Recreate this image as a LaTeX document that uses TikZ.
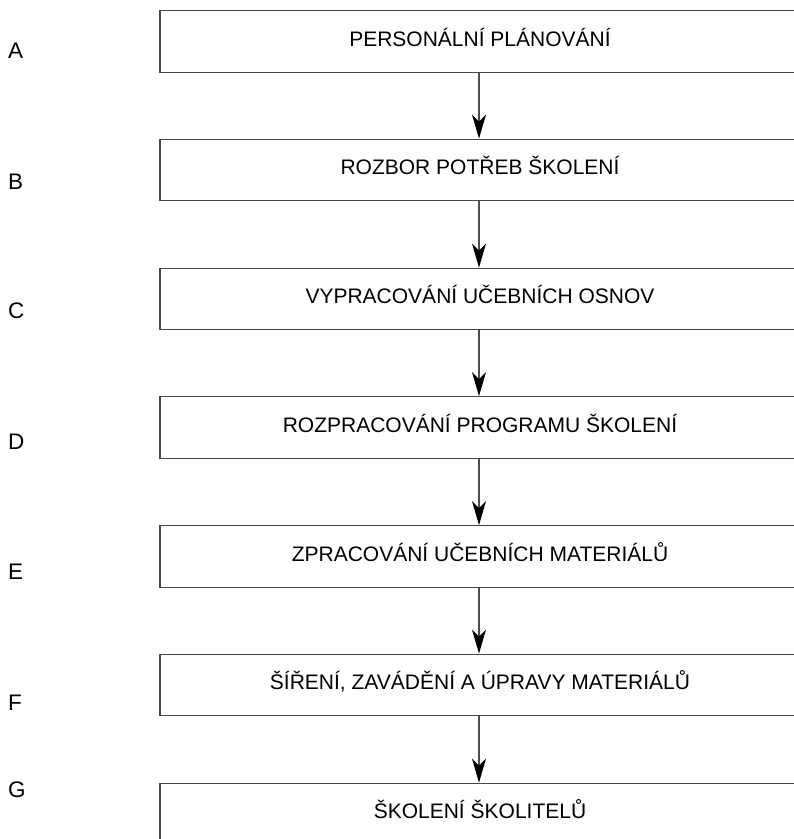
\documentclass[tikz,border=0pt]{standalone}
\usepackage{fontspec}
\setmainfont{Liberation Sans}
\usetikzlibrary{arrows.meta}
\begin{document}
\begin{tikzpicture}[x=1pt,y=-1pt,
  stepbox/.style={draw=black!72, line width=1.3pt, minimum width=640pt, minimum height=61.5pt,
    inner sep=0pt, text height=15pt, text depth=6pt, font=\fontsize{21}{24}\selectfont},
  rowlabel/.style={font=\fontsize{22.5}{26}\selectfont, anchor=west, inner sep=0pt},
  flow/.style={draw=black!70, line width=1.1pt, -{Stealth[length=24pt, width=14pt, inset=7pt, color=black]}}]
\useasboundingbox (0,0) rectangle (794,839);
\clip (0,0) rectangle (794,839);
\fill[white] (0,0) rectangle (794,839);
\node[stepbox] (a) at (480,41.5) {PERSONÁLNÍ PLÁNOVÁNÍ};
\node[stepbox] (b) at (480,170) {ROZBOR POTŘEB ŠKOLENÍ};
\node[stepbox] (c) at (480,299) {VYPRACOVÁNÍ UČEBNÍCH OSNOV};
\node[stepbox] (d) at (480,427.5) {ROZPRACOVÁNÍ PROGRAMU ŠKOLENÍ};
\node[stepbox] (e) at (480,556.5) {ZPRACOVÁNÍ UČEBNÍCH MATERIÁLŮ};
\node[stepbox] (f) at (480,685) {ŠÍŘENÍ, ZAVÁDĚNÍ A ÚPRAVY MATERIÁLŮ};
\node[stepbox] (g) at (480,814) {ŠKOLENÍ ŠKOLITELŮ};
\node[rowlabel] (la) at (8,51) {A};
\node[rowlabel] (lb) at (8,182) {B};
\node[rowlabel] (lc) at (8,311) {C};
\node[rowlabel] (ld) at (8,442) {D};
\node[rowlabel] (le) at (8,572) {E};
\node[rowlabel] (lf) at (8,703) {F};
\node[rowlabel] (lg) at (8,790) {G};
\draw[flow] ([xshift=-1pt]a.south) -- ([xshift=-1pt]b.north);
\draw[flow] ([xshift=-1pt]b.south) -- ([xshift=-1pt]c.north);
\draw[flow] ([xshift=-1pt]c.south) -- ([xshift=-1pt]d.north);
\draw[flow] ([xshift=-1pt]d.south) -- ([xshift=-1pt]e.north);
\draw[flow] ([xshift=-1pt]e.south) -- ([xshift=-1pt]f.north);
\draw[flow] ([xshift=-1pt]f.south) -- ([xshift=-1pt]g.north);
\end{tikzpicture}
\end{document}
